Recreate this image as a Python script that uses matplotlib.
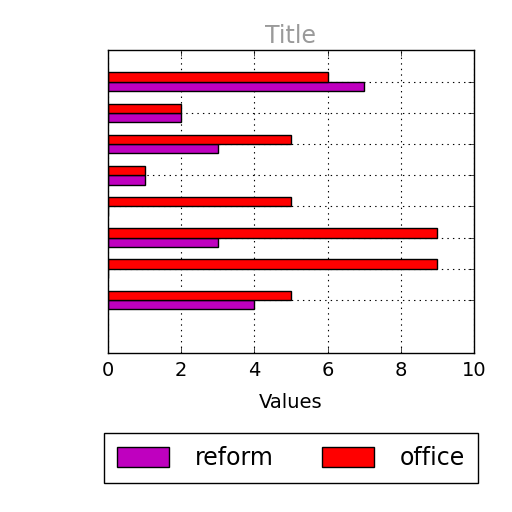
import numpy as np
import matplotlib
matplotlib.use('Agg')
import matplotlib.pyplot as plt

plt.style.use('classic')

# rows from top to bottom
reform = [7, 2, 3, 1, 0, 3, 0, 4]
office = [6, 2, 5, 1, 5, 9, 9, 5]
x_ticks = [0, 2, 4, 6, 8, 10]

fig = plt.figure(figsize=(5.12, 5.12), dpi=100)
fig.patch.set_facecolor('white')
ax = fig.add_axes([108 / 512, 1 - 353 / 512, (474 - 108) / 512, (353 - 50) / 512])

pos = np.arange(len(reform))
h = 0.3
ax.barh(pos + h / 2, reform, height=h, color='#BF00BF', edgecolor='black',
        linewidth=1, label='reform')
ax.barh(pos - h / 2, office, height=h, color='#FF0000', edgecolor='black',
        linewidth=1, label='office')

ax.set_ylim(8.7, -1.02)
ax.set_xlim(0, 10)
ax.set_xticks(x_ticks)
ax.set_yticks(pos)
ax.set_yticklabels([])
ax.tick_params(axis='x', labelsize=14, direction='in', top=True, pad=6)
ax.tick_params(axis='y', direction='in', right=True)
ax.grid(True, linestyle=':', color='black', linewidth=0.8)
ax.set_axisbelow(True)
ax.set_xlabel('Values', fontsize=14, labelpad=9)

fig.text(0.567, 1 - 36 / 512, 'Title', ha='center', va='center', fontsize=17,
         color='#9a9a9a')

fig.legend(loc='lower left', mode='expand', ncol=2,
           bbox_to_anchor=(104 / 512, 1 - 483 / 512, 374 / 512, 48 / 512),
           fontsize=17, frameon=True, fancybox=False, borderpad=0.55,
           borderaxespad=0, handlelength=2.2, handleheight=0.9,
           handletextpad=1.1)

fig.savefig('out.png', dpi=100, facecolor='white')
